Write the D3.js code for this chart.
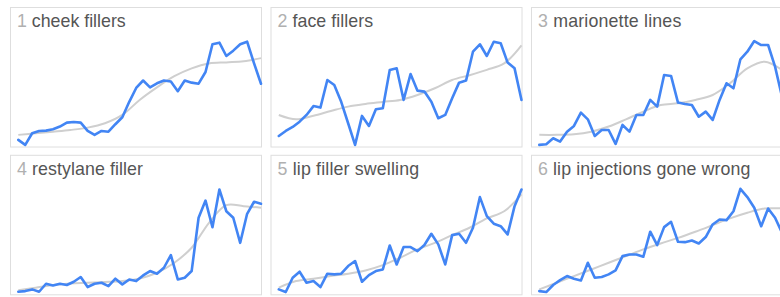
<!DOCTYPE html>
<html>
<head>
<meta charset="utf-8">
<script src="https://cdn.jsdelivr.net/npm/d3@7"></script>
<style>
  html, body { margin: 0; padding: 0; background: #fff; }
  svg { display: block; }
</style>
</head>
<body>
<svg id="chart" width="780" height="297"></svg>
<script>
// ---- data ----
const ranks = ["1", "2", "3", "4", "5", "6"];
const categories = ["cheek fillers", "face fillers", "marionette lines",
                    "restylane filler", "lip filler swelling", "lip injections gone wrong"];

const series1 = [6.3, 1.6, 12.5, 14.7, 15, 16.3, 18.8, 22.5, 23.1, 22.5, 14.7, 10.9, 14.7, 14, 21, 27.5,
                 42, 55, 62, 55.6, 59.4, 62, 61, 52, 62, 60, 59, 70, 96, 97.5, 85, 90, 96, 98.4, 78, 59];
const series2 = [10, 14.7, 18.4, 23.4, 29.7, 38, 36.6, 62.5, 57.8, 42, 21.9, 1.6, 28.8, 19.4, 35, 36,
                 71.9, 73.4, 43.8, 68, 52.5, 51.6, 42, 26.6, 29.7, 45.3, 60, 61.9, 89, 96, 85, 98.4, 97, 78.8, 73.4, 43.8];
const series3 = [1.6, 2.2, 7.8, 4.7, 14, 19.4, 31.9, 25.6, 10, 15.6, 15.6, 2.5, 20.3, 14, 29.7, 29.7,
                 43.8, 37.5, 67.2, 66.3, 41.3, 40, 39, 28, 32.8, 25, 43.8, 59.4, 54.7, 81.9, 89, 99, 95.3, 95.3, 75, 46.9];
const series4 = [2.5, 3.1, 4.7, 2.5, 10, 8.4, 10, 8.8, 11.9, 16.3, 6.9, 10, 10.9, 7.8, 14.7, 9.4,
                 14, 12.5, 17.8, 21.9, 19.4, 25, 36.9, 14, 15.6, 21.9, 71.9, 88, 63, 98.4, 78, 71.9, 48.4, 75.6, 86.9, 85];
const series5 = [4.7, 2.2, 15.6, 21.3, 10.9, 12.5, 6.9, 19.4, 18.8, 19.4, 26.6, 31.3, 11.9, 18.1, 21.9, 23.4,
                 45.9, 28.1, 44.4, 44.4, 40.6, 46.3, 56.9, 46.9, 28.1, 55.6, 56.9, 48.4, 62.5, 91.3, 73.4, 66.3, 64, 56.3, 82.8, 98.4];
const series6 = [3.1, 2.2, 8.8, 13.4, 17.2, 14.7, 13.1, 29.7, 15.6, 16.3, 18.8, 22.5, 35.9, 37.5, 37.5, 35.3,
                 58.8, 46.3, 63.1, 68.1, 49.4, 49, 50.6, 47.8, 53.8, 65.6, 70.3, 69.7, 78, 99, 91.3, 81.3, 64, 80.6, 71.9, 57.8];

// smoothed trend, read every 2.5 periods
const trend1 = [11, 12.5, 14, 15.6, 17.8, 21.9, 29.7, 43.8, 55.6, 66, 73.4, 78, 79, 80, 83];
const trend2 = [29.7, 25.6, 29, 33.4, 37.5, 40, 41.9, 43.8, 48.4, 54.7, 62.5, 67, 72, 78, 95];
const trend3 = [11, 11, 11.6, 14, 18.8, 25.6, 32.8, 39, 40.6, 43.8, 48.4, 59.4, 73.4, 79.7, 71.9];
const trend4 = [3.8, 6.3, 8.8, 10.3, 10.9, 11.6, 12.5, 15, 20.3, 29.7, 43.8, 67.2, 83.8, 82.8, 81.3];
const trend5 = [6.3, 12.5, 14.7, 17.2, 19.4, 22.5, 27.5, 34.4, 42.2, 48.4, 55.6, 62.5, 71.3, 78, 93.8];
const trend6 = [4.7, 10.9, 17.2, 23.4, 29.7, 35.9, 42.2, 47.8, 53, 58.8, 65, 71.3, 76.6, 80.6, 80.6];

const seriesList = [series1, series2, series3, series4, series5, series6];
const trendList = [trend1, trend2, trend3, trend4, trend5, trend6];
const trendStep = 2.5;

// ---- layout ----
const svg = d3.select("#chart");
const panelW = 251, panelH = 139.5;
const panelX = col => 10 + col * 260.5;
const panelY = row => 7 + row * 147.8;
const titleWidths = [108.7, 95.6, 143.3, 126, 141.6, 212.3]; // measured title extents (layout)

categories.forEach((name, i) => {
  const col = i % 3, row = Math.floor(i / 3);
  const x0 = panelX(col), y0 = panelY(row);
  const g = svg.append("g").attr("transform", `translate(${x0},${y0})`);

  g.append("rect")
    .attr("x", 0.5).attr("y", 0.5)
    .attr("width", panelW).attr("height", panelH)
    .attr("fill", "#fff")
    .attr("stroke", "#dedede").attr("stroke-width", 1);

  const vals = seriesList[i];
  const x = d3.scaleLinear().domain([0, vals.length - 1]).range([8.3, panelW]);
  const y = d3.scaleLinear().domain([0, 100]).range([139.6, 33]);

  const trend = trendList[i];
  g.append("path")
    .datum(trend)
    .attr("fill", "none")
    .attr("stroke", "#cfcfcf")
    .attr("stroke-width", 2)
    .attr("d", d3.line()
      .x((d, k) => x(k * trendStep))
      .y(d => y(d))
      .curve(d3.curveCatmullRom.alpha(0.5)));

  g.append("path")
    .datum(vals)
    .attr("fill", "none")
    .attr("stroke", "#4285f4")
    .attr("stroke-width", 2.6)
    .attr("stroke-linejoin", "round")
    .attr("stroke-linecap", "round")
    .attr("d", d3.line()
      .x((d, k) => x(k))
      .y(d => y(d)));

  const t = g.append("text")
    .attr("x", 7).attr("y", 20)
    .attr("font-family", "'Liberation Sans', Arial, sans-serif")
    .attr("font-size", 17.8)
    .attr("textLength", titleWidths[i])
    .attr("lengthAdjust", "spacing")
    .attr("xml:space", "preserve");
  t.append("tspan").attr("fill", "#b0b0b0").text(ranks[i] + " ");
  t.append("tspan").attr("fill", "#555").text(categories[i]);
});
</script>
</body>
</html>
